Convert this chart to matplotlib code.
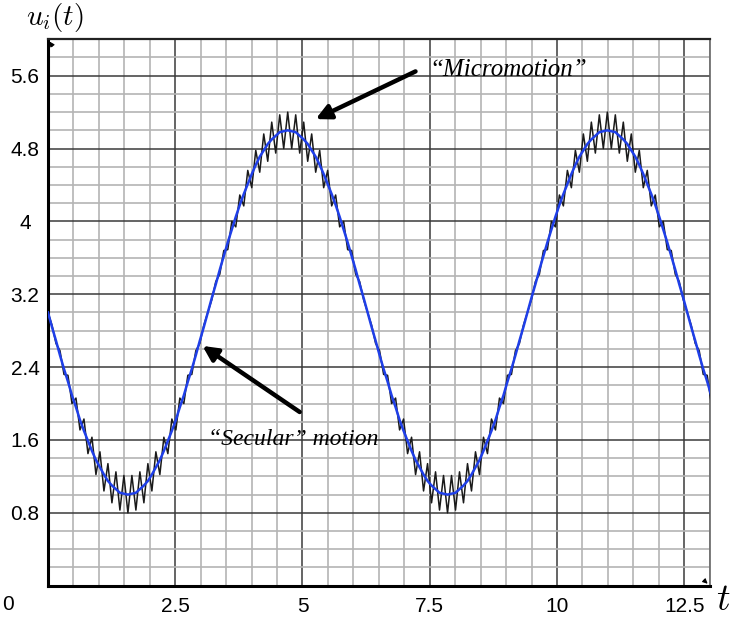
import numpy as np
import matplotlib.pyplot as plt

plt.rcParams['mathtext.fontset'] = 'cm'

# spacing between micromotion extrema (half a fast period)
half_period = 0.0785

# secular (slow) motion, sampled at every micromotion extremum
secular = [
    3.00, 2.84, 2.69, 2.53, 2.38, 2.24, 2.09, 1.96, 1.82, 1.70, 1.59, 1.48, 1.38, 1.30, 1.22, 1.15, 1.10, 1.06, 1.02, 1.01, 1.00,
    1.01, 1.02, 1.06, 1.10, 1.15, 1.22, 1.30, 1.38, 1.48, 1.59, 1.70, 1.82, 1.96, 2.09, 2.24, 2.38, 2.53, 2.69, 2.84, 3.00,
    3.16, 3.31, 3.47, 3.62, 3.77, 3.91, 4.05, 4.18, 4.30, 4.41, 4.52, 4.62, 4.71, 4.78, 4.85, 4.90, 4.94, 4.98, 4.99, 5.00,
    4.99, 4.98, 4.94, 4.90, 4.85, 4.78, 4.71, 4.62, 4.52, 4.41, 4.30, 4.18, 4.05, 3.91, 3.77, 3.62, 3.47, 3.31, 3.16, 3.00,
    2.84, 2.69, 2.53, 2.38, 2.24, 2.09, 1.96, 1.82, 1.70, 1.59, 1.48, 1.38, 1.30, 1.22, 1.15, 1.10, 1.06, 1.02, 1.01, 1.00,
    1.01, 1.02, 1.06, 1.10, 1.15, 1.22, 1.30, 1.38, 1.48, 1.59, 1.70, 1.82, 1.96, 2.09, 2.24, 2.38, 2.53, 2.69, 2.84, 3.00,
    3.16, 3.31, 3.47, 3.62, 3.77, 3.91, 4.05, 4.18, 4.30, 4.41, 4.52, 4.62, 4.71, 4.78, 4.85, 4.90, 4.94, 4.98, 4.99, 5.00,
    4.99, 4.98, 4.94, 4.90, 4.85, 4.78, 4.71, 4.62, 4.52, 4.41, 4.30, 4.18, 4.05, 3.91, 3.77, 3.62, 3.47, 3.31, 3.16, 3.00,
    2.84, 2.69, 2.53, 2.38, 2.24, 2.09,
]

# full motion (secular + micromotion), values at the same extrema
micro = [
    3.00, 2.86, 2.66, 2.58, 2.32, 2.31, 2.00, 2.06, 1.71, 1.83, 1.45, 1.63, 1.22, 1.47, 1.04, 1.34, 0.91, 1.25, 0.83, 1.21, 0.80,
    1.21, 0.83, 1.25, 0.91, 1.34, 1.04, 1.47, 1.22, 1.63, 1.45, 1.83, 1.71, 2.06, 2.00, 2.31, 2.32, 2.58, 2.66, 2.86, 3.00,
    3.14, 3.34, 3.42, 3.68, 3.69, 4.00, 3.94, 4.29, 4.17, 4.56, 4.37, 4.78, 4.54, 4.96, 4.66, 5.09, 4.75, 5.17, 4.80, 5.20,
    4.80, 5.17, 4.75, 5.09, 4.66, 4.96, 4.54, 4.78, 4.37, 4.56, 4.17, 4.29, 3.94, 4.00, 3.69, 3.68, 3.42, 3.34, 3.14, 3.00,
    2.86, 2.66, 2.58, 2.32, 2.31, 2.00, 2.06, 1.71, 1.83, 1.45, 1.63, 1.22, 1.47, 1.04, 1.34, 0.91, 1.25, 0.83, 1.21, 0.80,
    1.21, 0.83, 1.25, 0.91, 1.34, 1.04, 1.47, 1.22, 1.63, 1.45, 1.83, 1.71, 2.06, 2.00, 2.31, 2.32, 2.58, 2.66, 2.86, 3.00,
    3.14, 3.34, 3.42, 3.68, 3.69, 4.00, 3.94, 4.29, 4.17, 4.56, 4.37, 4.78, 4.54, 4.96, 4.66, 5.09, 4.75, 5.17, 4.80, 5.20,
    4.80, 5.17, 4.75, 5.09, 4.66, 4.96, 4.54, 4.78, 4.37, 4.56, 4.17, 4.29, 3.94, 4.00, 3.69, 3.68, 3.42, 3.34, 3.14, 3.00,
    2.86, 2.66, 2.58, 2.32, 2.31, 2.00,
]

x_ticks = [2.5, 5, 7.5, 10, 12.5]
x_labels = ['2.5', '5', '7.5', '10', '12.5']
y_ticks = [0.8, 1.6, 2.4, 3.2, 4.0, 4.8, 5.6]
y_labels = ['0.8', '1.6', '2.4', '3.2', '4', '4.8', '5.6']

t = np.arange(len(secular)) * half_period

fig = plt.figure(figsize=(7.34, 6.22), dpi=100)
ax = fig.add_axes([0.0654, 0.0584, 0.9014, 0.8785])

ax.plot(t, micro, color='#1a1a1a', lw=1.1, zorder=3)
ax.plot(t, secular, color='#1f3fe8', lw=1.8, zorder=4)

ax.set_xlim(0, 13)
ax.set_ylim(0, 6)

ax.set_xticks(x_ticks)
ax.set_xticklabels(x_labels, fontfamily='Liberation Sans', fontsize=15)
ax.set_xticks(np.arange(0, 13.01, 0.5), minor=True)
ax.set_yticks(y_ticks)
ax.set_yticklabels(y_labels, fontfamily='Liberation Sans', fontsize=15, ha='center')
ax.set_yticks(np.arange(0, 6.01, 0.2), minor=True)
ax.tick_params(which='both', length=0)
ax.tick_params(axis='y', pad=16.5)
ax.tick_params(axis='x', pad=8.5)

ax.grid(which='minor', color='#b4b4b4', lw=1.2, zorder=0)
ax.grid(which='major', color='#3a3a3a', lw=1.1, zorder=1)
ax.set_axisbelow(True)

ax.spines['left'].set_linewidth(2.2)
ax.spines['bottom'].set_linewidth(2.2)
ax.spines['top'].set_linewidth(1.6)
ax.spines['top'].set_color('#222222')
ax.spines['right'].set_linewidth(1.2)
ax.spines['right'].set_color('#666666')

# small arrow tips on the axes
ax.annotate('', xy=(0.0, 6.0), xytext=(0.12, 5.9),
            arrowprops=dict(arrowstyle='-|>', color='black', lw=0.8, mutation_scale=7))
ax.annotate('', xy=(13.0, 0.0), xytext=(12.85, 0.08),
            arrowprops=dict(arrowstyle='-|>', color='black', lw=0.8, mutation_scale=7))

fig.text(8 / 734, 1 - 605 / 622, '0', fontfamily='Liberation Sans', fontsize=15,
         ha='center', va='center')
fig.text(723 / 734, 1 - 600 / 622, r'$t$', fontsize=27, ha='center', va='center')
fig.text(55 / 734, 1 - 18 / 622, r'$u_i(t)$', fontsize=21, ha='center', va='center')

ax.annotate('', xy=(5.21, 5.11), xytext=(7.27, 5.66),
            arrowprops=dict(arrowstyle='-|>', color='black', lw=3.2, mutation_scale=22))
ax.text(7.5, 5.66, '\u201cMicromotion\u201d', fontfamily='Liberation Serif', style='italic',
        fontsize=18, ha='left', va='center')

ax.annotate('', xy=(2.99, 2.65), xytext=(4.99, 1.89),
            arrowprops=dict(arrowstyle='-|>', color='black', lw=3.2, mutation_scale=22))
ax.text(3.14, 1.6, '\u201cSecular\u201d motion', fontfamily='Liberation Serif', style='italic',
        fontsize=17, ha='left', va='center')

fig.savefig('out.png', dpi=100)
